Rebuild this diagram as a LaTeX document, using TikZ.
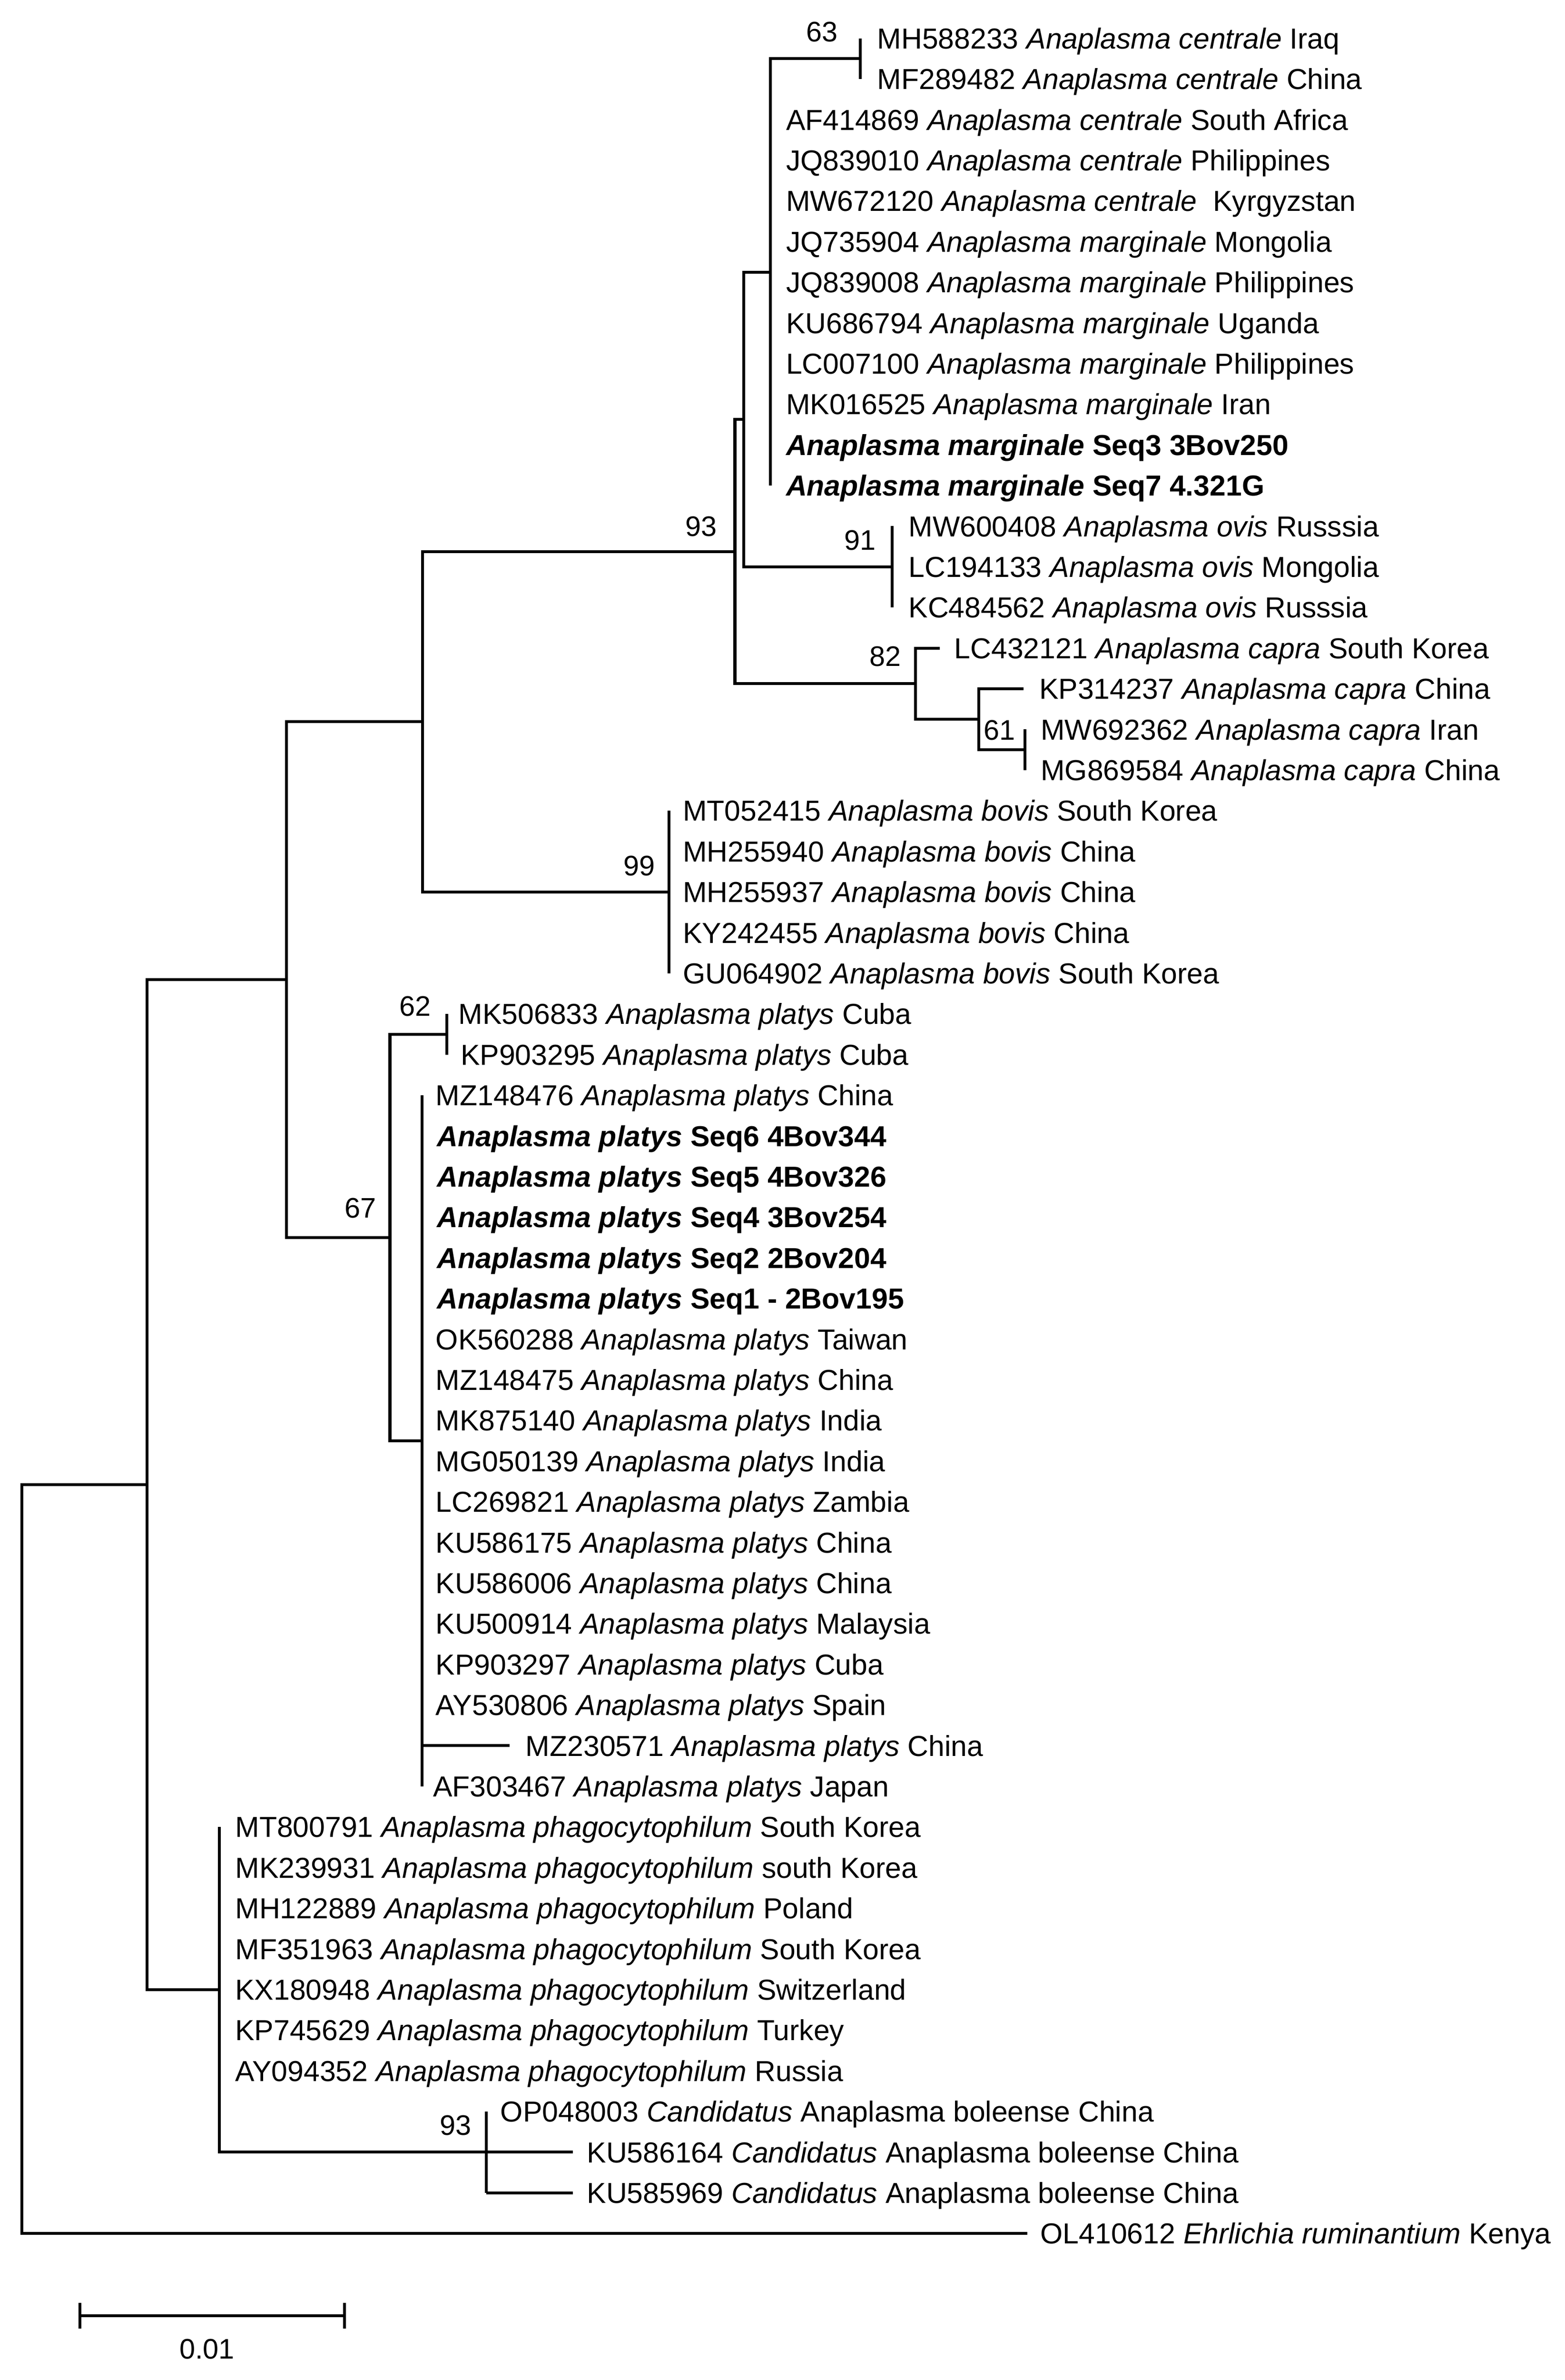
\documentclass[tikz,border=0pt]{standalone}
\usepackage{fontspec}
\setmainfont{Liberation Sans}
\newcommand\yy[1]{(25.1+26.595*#1)}
\begin{document}
\begin{tikzpicture}[x=1pt,y=-1pt,
  br/.style={line width=1.9pt,line join=miter},
  lab/.style={anchor=base west,inner sep=0pt,font=\fontsize{18.9}{22}\selectfont},
  bs/.style={inner sep=0pt,font=\fontsize{18.5}{21}\selectfont}]
\useasboundingbox (0,0) rectangle (1024,1557.14);
% ---------- labels ----------
\newcommand\lab[4]{\node[lab] (#1) at (#2,{\yy{#3}+6.77}) {#4};}
\lab{L0}{574}{0}{MH588233 \textit{Anaplasma centrale} Iraq}
\lab{L1}{574}{1}{MF289482 \textit{Anaplasma centrale} China}
\lab{L2}{514.3}{2}{AF414869 \textit{Anaplasma centrale} South Africa}
\lab{L3}{514.3}{3}{JQ839010 \textit{Anaplasma centrale} Philippines}
\lab{L4}{514.3}{4}{MW672120 \textit{Anaplasma centrale}\ \ Kyrgyzstan}
\lab{L5}{514.3}{5}{JQ735904 \textit{Anaplasma marginale} Mongolia}
\lab{L6}{514.3}{6}{JQ839008 \textit{Anaplasma marginale} Philippines}
\lab{L7}{514.3}{7}{KU686794 \textit{Anaplasma marginale} Uganda}
\lab{L8}{514.3}{8}{LC007100 \textit{Anaplasma marginale} Philippines}
\lab{L9}{514.3}{9}{MK016525 \textit{Anaplasma marginale} Iran}
\lab{L10}{514.3}{10}{\textbf{\textit{Anaplasma marginale} Seq3 3Bov250}}
\lab{L11}{514.3}{11}{\textbf{\textit{Anaplasma marginale} Seq7 4.321G}}
\lab{L12}{594.5}{12}{MW600408 \textit{Anaplasma ovis} Russsia}
\lab{L13}{594.5}{13}{LC194133 \textit{Anaplasma ovis} Mongolia}
\lab{L14}{594.5}{14}{KC484562 \textit{Anaplasma ovis} Russsia}
\lab{L15}{624.5}{15}{LC432121 \textit{Anaplasma capra} South Korea}
\lab{L16}{680}{16}{KP314237 \textit{Anaplasma capra} China}
\lab{L17}{681}{17}{MW692362 \textit{Anaplasma capra} Iran}
\lab{L18}{681}{18}{MG869584 \textit{Anaplasma capra} China}
\lab{L19}{446.8}{19}{MT052415 \textit{Anaplasma bovis} South Korea}
\lab{L20}{446.8}{20}{MH255940 \textit{Anaplasma bovis} China}
\lab{L21}{446.8}{21}{MH255937 \textit{Anaplasma bovis} China}
\lab{L22}{446.8}{22}{KY242455 \textit{Anaplasma bovis} China}
\lab{L23}{446.8}{23}{GU064902 \textit{Anaplasma bovis} South Korea}
\lab{L24}{300}{24}{MK506833 \textit{Anaplasma platys} Cuba}
\lab{L25}{301.3}{25}{KP903295 \textit{Anaplasma platys} Cuba}
\lab{L26}{285}{26}{MZ148476 \textit{Anaplasma platys} China}
\lab{L27}{285.8}{27}{\textbf{\textit{Anaplasma platys} Seq6 4Bov344}}
\lab{L28}{285.8}{28}{\textbf{\textit{Anaplasma platys} Seq5 4Bov326}}
\lab{L29}{285.8}{29}{\textbf{\textit{Anaplasma platys} Seq4 3Bov254}}
\lab{L30}{285.8}{30}{\textbf{\textit{Anaplasma platys} Seq2 2Bov204}}
\lab{L31}{285.8}{31}{\textbf{\textit{Anaplasma platys} Seq1 - 2Bov195}}
\lab{L32}{285}{32}{OK560288 \textit{Anaplasma platys} Taiwan}
\lab{L33}{285}{33}{MZ148475 \textit{Anaplasma platys} China}
\lab{L34}{285}{34}{MK875140 \textit{Anaplasma platys} India}
\lab{L35}{285}{35}{MG050139 \textit{Anaplasma platys} India}
\lab{L36}{285}{36}{LC269821 \textit{Anaplasma platys} Zambia}
\lab{L37}{285}{37}{KU586175 \textit{Anaplasma platys} China}
\lab{L38}{285}{38}{KU586006 \textit{Anaplasma platys} China}
\lab{L39}{285}{39}{KU500914 \textit{Anaplasma platys} Malaysia}
\lab{L40}{285}{40}{KP903297 \textit{Anaplasma platys} Cuba}
\lab{L41}{285}{41}{AY530806 \textit{Anaplasma platys} Spain}
\lab{L42}{343.9}{42}{MZ230571 \textit{Anaplasma platys} China}
\lab{L43}{283.2}{43}{AF303467 \textit{Anaplasma platys} Japan}
\lab{L44}{153.8}{44}{MT800791 \textit{Anaplasma phagocytophilum} South Korea}
\lab{L45}{153.8}{45}{MK239931 \textit{Anaplasma phagocytophilum} south Korea}
\lab{L46}{153.8}{46}{MH122889 \textit{Anaplasma phagocytophilum} Poland}
\lab{L47}{153.8}{47}{MF351963 \textit{Anaplasma phagocytophilum} South Korea}
\lab{L48}{153.8}{48}{KX180948 \textit{Anaplasma phagocytophilum} Switzerland}
\lab{L49}{153.8}{49}{KP745629 \textit{Anaplasma phagocytophilum} Turkey}
\lab{L50}{153.8}{50}{AY094352 \textit{Anaplasma phagocytophilum} Russia}
\lab{L51}{327.4}{51}{OP048003 \textit{Candidatus} Anaplasma boleense China}
\lab{L52}{384}{52}{KU586164 \textit{Candidatus} Anaplasma boleense China}
\lab{L53}{384}{53}{KU585969 \textit{Candidatus} Anaplasma boleense China}
\lab{L54}{680.8}{54}{OL410612 \textit{Ehrlichia ruminantium} Kenya}
% ---------- coordinates ----------
\coordinate (a0) at (563,{\yy{0}});
\coordinate (a1) at (563,{\yy{1}});
\coordinate (n63) at (563,{\yy{0.5}});
\coordinate (n504) at (504.3,{\yy{5.75}});
\coordinate (r11) at (504.3,{\yy{11}});
\coordinate (o12) at (584,{\yy{12}});
\coordinate (o14) at (584,{\yy{14}});
\coordinate (nOv) at (584,{\yy{13}});
\coordinate (n487) at (486.7,{\yy{9.375}});
\coordinate (c17) at (670.7,{\yy{17}});
\coordinate (c18) at (670.7,{\yy{18}});
\coordinate (n61) at (670.7,{\yy{17.5}});
\coordinate (t16) at (670,{\yy{16}});
\coordinate (n61p) at (640.5,{\yy{16.75}});
\coordinate (t15) at (615,{\yy{15}});
\coordinate (n82) at (599.2,{\yy{15.875}});
\coordinate (n481) at (481,{\yy{12.625}});
\coordinate (b19) at (437.8,{\yy{19}});
\coordinate (b23) at (437.8,{\yy{23}});
\coordinate (nBov) at (437.8,{\yy{21}});
\coordinate (n276) at (276.5,{\yy{16.8125}});
\coordinate (p24) at (292.4,{\yy{24}});
\coordinate (p25) at (292.4,{\yy{25}});
\coordinate (n62) at (292.4,{\yy{24.5}});
\coordinate (p26) at (276.2,{\yy{26}});
\coordinate (p43) at (276.2,{\yy{43}});
\coordinate (p42) at (276.2,{\yy{42}});
\coordinate (t42) at (333.5,{\yy{42}});
\coordinate (nPl) at (276.2,{\yy{34.5}});
\coordinate (n255) at (255.2,{\yy{29.5}});
\coordinate (n187) at (187.4,{\yy{23.15625}});
\coordinate (h44) at (143.5,{\yy{44}});
\coordinate (nPh) at (143.5,{\yy{48}});
\coordinate (q51) at (318.2,{\yy{51}});
\coordinate (q53) at (318.2,{\yy{53}});
\coordinate (nBol) at (318.2,{\yy{52}});
\coordinate (t52) at (374.8,{\yy{52}});
\coordinate (t53) at (374.8,{\yy{53}});
\coordinate (n96) at (96.3,{\yy{35.578125}});
\coordinate (root) at (14.3,{\yy{44.7890625}});
\coordinate (t54) at (672.3,{\yy{54}});
% ---------- branches ----------
\draw[br] (a0) -- (a1);
\draw[br] (n63) -| (n504) |- (r11);
\draw[br] (o12) -- (o14);
\draw[br] (n504) -| (n487) |- (nOv);
\draw[br] (c17) -- (c18);
\draw[br] (t16) -| (n61p) |- (n61);
\draw[br] (t15) -| (n82) |- (n61p);
\draw[br] (n487) -| (n481) |- (n82);
\draw[br] (b19) -- (b23);
\draw[br] (n481) -| (n276) |- (nBov);
\draw[br] (p24) -- (p25);
\draw[br] (p26) -- (p43);
\draw[br] (p42) -- (t42);
\draw[br] (n62) -| (n255) |- (nPl);
\draw[br] (n276) -| (n187) |- (n255);
\draw[br] (q51) -- (q53);
\draw[br] (h44) |- (t52);
\draw[br] (q53) -- (t53);
\draw[br] (n187) -| (n96) |- (nPh);
\draw[br] (n96) -| (root) |- (t54);
% ---------- bootstrap values ----------
\node[bs] (bs63) at (538,20.9) {63};
\node[bs] (bs93a) at (459,344.5) {93};
\node[bs] (bs91) at (563,353.5) {91};
\node[bs] (bs82) at (579.3,429.5) {82};
\node[bs] (bs61) at (654.3,477.7) {61};
\node[bs] (bs99) at (418.3,566.5) {99};
\node[bs] (bs62) at (271.7,658.5) {62};
\node[bs] (bs67) at (236,790.5) {67};
\node[bs] (bs93b) at (298.3,1390.5) {93};
% ---------- scale bar ----------
\coordinate (s0) at (52.2,1515);
\coordinate (s1) at (225.5,1515);
\draw[br] (s0) -- (s1);
\draw[br] ([yshift=8.4pt]s0) -- ([yshift=-8.4pt]s0);
\draw[br] ([yshift=8.4pt]s1) -- ([yshift=-8.4pt]s1);
\node[bs] (sl) at (135.5,1537) {0.01};
\end{tikzpicture}
\end{document}
